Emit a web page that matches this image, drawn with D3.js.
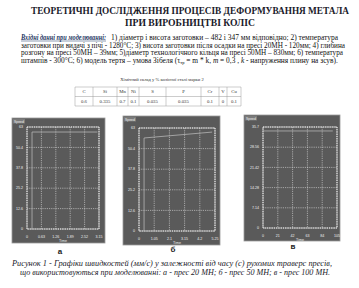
<!DOCTYPE html>
<html><head><meta charset="utf-8">
<script src="https://cdn.jsdelivr.net/npm/d3@7/dist/d3.min.js"></script>
<style>html,body{margin:0;padding:0;background:#fff;}svg{display:block;}</style>
</head><body>
<script>
// ---------- DATA ----------
const titleLines = ["ТЕОРЕТИЧНІ ДОСЛІДЖЕННЯ ПРОЦЕСІВ ДЕФОРМУВАННЯ МЕТАЛА", "ПРИ ВИРОБНИЦТВІ КОЛІС"];
const introLead = "Вхідні данні при  моделюванні:";
const introLines = [
  "1) діаметр і висота заготовки – 482 і 347 мм відповідно; 2) температура",
  "заготовки при видачі з пічі - 1280°С; 3) висота заготовки після осадки на пресі 20МН - 120мм; 4) глибина",
  "розгону на пресі 50МН – 39мм; 5)діаметр технологічного кільця на пресі 50МН – 830мм; 6) температура",
  "штампів - 300°С; 6) модель тертя – умова Зібеля (τ",
];
const tableCaption = "Хімічний склад у % колісної сталі марки 2";
const tableCols = ["C","Si","Mn","Ni","S","P","Cr","V","Cu"];
const tableVals = ["0.6","0.335","0.7","0.1","0.035","0.035","0.1","0","0.1"];
const panelLabels = ["а","б","в"];
const yTicksA = [0,12.6,25.2,37.8,50.4,63];
const xTicksA = [0,0.63,1.26,1.89,2.52,3.15];
const speedA = [[0.22,0],[0.22,59.9],[3.08,59.9]];
const yTicksB = [0,12.6,25.2,37.8,50.4,63];
const xTicksB = [0,1.05,2.1,3.15,4.2,5.25];
const speedB = [[0.35,0],[0.35,56.9],[5.05,60.5]];
const yTicksC = [0,7.14,14.28,21.42,28.56,35.7];
const xTicksC = [0,21,42,63,84,105];
const speedC = [[0,34.3],[99,34.3]];
const captionLines = [
  "Рисунок 1 - Графіки швидкостей (мм/с) у залежності від часу (с) рухомих траверс пресів,",
  "що використовуються при моделюванні:  а - прес 20 МН; б - прес 50 МН; в - прес 100 МН."
];

// ---------- LAYOUT ----------
const W = 359, H = 288;
const svg = d3.select("body").append("svg").attr("width", W).attr("height", H);
const serif = "'Liberation Serif','DejaVu Serif',serif";
const sans = "'Liberation Sans','DejaVu Sans',sans-serif";

// title
svg.selectAll("text.title").data(titleLines).join("text")
  .attr("x", 190).attr("y", (d,i)=>14 + i*11.5)
  .attr("text-anchor","middle").attr("font-family",serif).attr("font-weight","bold")
  .attr("font-size",9.6).attr("fill","#1a1a2a")
  .attr("textLength",(d,i)=> i===0 ? 318 : 130).attr("lengthAdjust","spacingAndGlyphs")
  .text(d=>d);

// intro paragraph
const pFs = 7.4, pY0 = 40, pDy = 7.6;
svg.append("text").attr("x",21).attr("y",pY0).attr("font-family",serif)
  .attr("font-size",pFs).attr("font-weight","bold").attr("font-style","italic")
  .attr("fill","#1f3864")
  .attr("textLength",85).attr("lengthAdjust","spacingAndGlyphs").text(introLead);
svg.append("line").attr("x1",21).attr("x2",106).attr("y1",pY0+1).attr("y2",pY0+1).attr("stroke","#1f3864").attr("stroke-width",0.5);
const introLens = [227, 324, 322, 0];
const introX = [111, 21, 21, 21];
introLines.forEach((t,i)=>{
  const tx = svg.append("text").attr("x",introX[i]).attr("y",pY0 + i*pDy)
    .attr("font-family",serif).attr("font-size",pFs).attr("fill","#111");
  if (i < 3) {
    tx.attr("textLength",introLens[i]).attr("lengthAdjust","spacingAndGlyphs").text(t);
  } else {
    tx.append("tspan").text(t);
    tx.append("tspan").attr("font-size",4.5).attr("dy",1.5).text("тр");
    tx.append("tspan").attr("dy",-1.5).text(" = m * k, ");
    tx.append("tspan").attr("font-style","italic").text("m");
    tx.append("tspan").text(" = 0,3 ,  ");
    tx.append("tspan").attr("font-style","italic").text("k");
    tx.append("tspan").text(" - напруження плину на зсув).");
  }
});

// table
svg.append("text").attr("x",162).attr("y",81).attr("text-anchor","middle")
  .attr("font-family",serif).attr("font-size",4.6).attr("fill","#333").text(tableCaption);
const colEdges = [75, 93, 117, 128, 139, 166, 201, 219, 227, 241];
const rowEdges = [87, 96.5, 106];
const tg = svg.append("g");
tg.selectAll("line.v").data(colEdges).join("line")
  .attr("x1",d=>d).attr("x2",d=>d).attr("y1",rowEdges[0]).attr("y2",rowEdges[2])
  .attr("stroke","#999").attr("stroke-width",0.5);
tg.selectAll("line.h").data(rowEdges).join("line")
  .attr("x1",colEdges[0]).attr("x2",colEdges[colEdges.length-1]).attr("y1",d=>d).attr("y2",d=>d)
  .attr("stroke","#999").attr("stroke-width",0.5);
[tableCols, tableVals].forEach((row, r)=>{
  tg.selectAll("text.r"+r).data(row).join("text")
    .attr("x",(d,i)=>(colEdges[i]+colEdges[i+1])/2)
    .attr("y",(rowEdges[r]+rowEdges[r+1])/2 + 1.7)
    .attr("text-anchor","middle").attr("font-family",serif).attr("font-size",4.8).attr("fill","#333")
    .text(d=>d);
});

// panels
const panels = [
  {box:[12,118,93,125], plot:[27,127,99,229], xt:xTicksA, yt:yTicksA, data:speedA, lab:[60,254], fmt:d=>d},
  {box:[123,116,97,129], plot:[139,128,215,231], xt:xTicksB, yt:yTicksB, data:speedB, lab:[173,252], fmt:d=>d},
  {box:[244,115,96,126], plot:[263,127,337,228], xt:xTicksC, yt:yTicksC, data:speedC, lab:[293,249], fmt:d=>d},
];
panels.forEach((p,pi)=>{
  const g = svg.append("g");
  const [bx,by,bw,bh] = p.box;
  g.append("rect").attr("x",bx).attr("y",by).attr("width",bw).attr("height",bh)
    .attr("fill","#5a5a5a").attr("stroke","#9a9a9a").attr("stroke-width",0.8);
  g.append("rect").attr("x",bx+1).attr("y",by+1).attr("width",12).attr("height",4.5).attr("fill","#7a7a7a");
  g.append("text").attr("x",bx+2).attr("y",by+4.6).attr("font-family",sans).attr("font-size",3.4)
    .attr("fill","#eee").text("Speed");
  const [l,t,r,b] = p.plot;
  const x = d3.scaleLinear().domain([p.xt[0], p.xt[p.xt.length-1]]).range([l,r]);
  const y = d3.scaleLinear().domain([p.yt[0], p.yt[p.yt.length-1]]).range([b,t]);
  g.selectAll("line.gx").data(p.xt).join("line")
    .attr("x1",d=>x(d)).attr("x2",d=>x(d)).attr("y1",t).attr("y2",b)
    .attr("stroke","#dcdcdc").attr("stroke-width",0.6).attr("stroke-dasharray","1.2,1");
  g.selectAll("line.gy").data(p.yt).join("line")
    .attr("x1",l).attr("x2",r).attr("y1",d=>y(d)).attr("y2",d=>y(d))
    .attr("stroke","#dcdcdc").attr("stroke-width",0.6).attr("stroke-dasharray","1.2,1");
  g.append("rect").attr("x",l).attr("y",t).attr("width",r-l).attr("height",b-t)
    .attr("fill","none").attr("stroke","#f2f2f2").attr("stroke-width",1).attr("stroke-dasharray","1.5,0.8");
  g.append("path").datum(p.data)
    .attr("d", d3.line().x(d=>x(d[0])).y(d=>y(d[1])))
    .attr("fill","none").attr("stroke","#b5b5b5").attr("stroke-width",0.8);
  g.selectAll("text.yt").data(p.yt).join("text")
    .attr("x",l-4).attr("y",d=>y(d)+1.2).attr("text-anchor","end")
    .attr("font-family",sans).attr("font-size",3.6).attr("fill","#f0f0f0").text(p.fmt);
  g.selectAll("text.xt").data(p.xt).join("text")
    .attr("x",d=>x(d)).attr("y",b+8.5).attr("text-anchor","middle")
    .attr("font-family",sans).attr("font-size",3.6).attr("fill","#f0f0f0").text(p.fmt);
  g.append("text").attr("x",(l+r)/2).attr("y",b+12.5).attr("text-anchor","middle")
    .attr("font-family",sans).attr("font-size",3.6).attr("fill","#f0f0f0").text("Time");
  svg.append("text").attr("x",p.lab[0]).attr("y",p.lab[1]).attr("text-anchor","middle")
    .attr("font-family",sans).attr("font-size",8).attr("font-weight","bold").attr("fill","#222")
    .text(panelLabels[pi]);
});

// caption
svg.selectAll("text.cap").data(captionLines).join("text")
  .attr("x",(d,i)=> i===0 ? 12 : 20).attr("y",(d,i)=>266 + i*9)
  .attr("font-family",serif).attr("font-style","italic").attr("font-size",7.6).attr("fill","#1a1a2a")
  .attr("textLength",(d,i)=> i===0 ? 320 : 310).attr("lengthAdjust","spacingAndGlyphs")
  .text(d=>d);
</script>
</body></html>
